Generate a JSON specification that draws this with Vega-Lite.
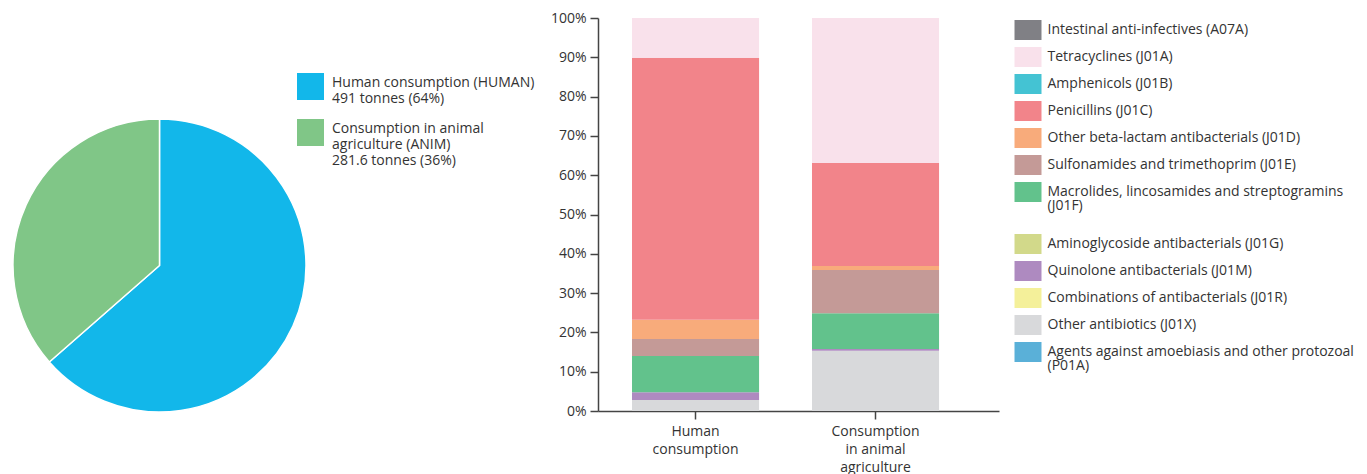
{
  "$schema": "https://vega.github.io/schema/vega-lite/v6.json",
  "background": "white",
  "padding": {"left": 10, "top": 11, "right": 5, "bottom": 0},
  "config": {
    "font": "Open Sans",
    "view": {"stroke": null},
    "axis": {"labelFont": "Open Sans", "labelFontSize": 14, "labelColor": "#333333", "domainColor": "#444444", "tickColor": "#444444", "domainWidth": 1.5, "tickWidth": 1.5, "grid": false, "title": null},
    "legend": {"labelFont": "Open Sans", "labelFontSize": 14, "labelColor": "#333333", "title": null}
  },
  "datasets": {
    "pie": [
      {"sector": "Human consumption (HUMAN)", "tonnes": 491, "rank": 1},
      {"sector": "Consumption in animal agriculture (ANIM)", "tonnes": 281.6, "rank": 2}
    ],
    "bars": [
      {"group": "Human consumption", "code": "J01X", "name": "Other antibiotics (J01X)", "pct": 2.8},
      {"group": "Human consumption", "code": "J01M", "name": "Quinolone antibacterials (J01M)", "pct": 2.0},
      {"group": "Human consumption", "code": "J01F", "name": "Macrolides, lincosamides and streptogramins (J01F)", "pct": 9.2},
      {"group": "Human consumption", "code": "J01E", "name": "Sulfonamides and trimethoprim (J01E)", "pct": 4.3},
      {"group": "Human consumption", "code": "J01D", "name": "Other beta-lactam antibacterials (J01D)", "pct": 4.9},
      {"group": "Human consumption", "code": "J01C", "name": "Penicillins (J01C)", "pct": 66.7},
      {"group": "Human consumption", "code": "J01A", "name": "Tetracyclines (J01A)", "pct": 10.1},
      {"group": "Consumption in animal agriculture", "code": "J01X", "name": "Other antibiotics (J01X)", "pct": 15.3},
      {"group": "Consumption in animal agriculture", "code": "J01M", "name": "Quinolone antibacterials (J01M)", "pct": 0.5},
      {"group": "Consumption in animal agriculture", "code": "J01F", "name": "Macrolides, lincosamides and streptogramins (J01F)", "pct": 9.1},
      {"group": "Consumption in animal agriculture", "code": "J01E", "name": "Sulfonamides and trimethoprim (J01E)", "pct": 11.0},
      {"group": "Consumption in animal agriculture", "code": "J01D", "name": "Other beta-lactam antibacterials (J01D)", "pct": 1.0},
      {"group": "Consumption in animal agriculture", "code": "J01C", "name": "Penicillins (J01C)", "pct": 26.2},
      {"group": "Consumption in animal agriculture", "code": "J01A", "name": "Tetracyclines (J01A)", "pct": 36.9}
    ]
  },
  "bounds": "flush",
  "spacing": 292,
  "resolve": {"scale": {"color": "independent"}, "legend": {"color": "independent"}},
  "hconcat": [
    {
      "width": 293,
      "height": 450,
      "data": {"name": "pie"},
      "mark": {"type": "arc", "stroke": "white", "strokeWidth": 1.5, "yOffset": 22.5},
      "encoding": {
        "theta": {"field": "tonnes", "type": "quantitative", "stack": true},
        "order": {"field": "rank", "type": "ordinal"},
        "color": {
          "field": "sector",
          "type": "nominal",
          "scale": {"domain": ["Human consumption (HUMAN)", "Consumption in animal agriculture (ANIM)"], "range": ["#12b7ea", "#80c687"]},
          "legend": {
            "orient": "none",
            "legendX": 284,
            "legendY": 55,
            "symbolType": "square",
            "symbolSize": 729,
            "symbolStrokeWidth": 0,
            "labelOffset": 8,
            "rowPadding": 13,
            "labelLimit": 400,
            "labelBaseline": "alphabetic",
            "labelExpr": "datum.label == 'Human consumption (HUMAN)' ? ['Human consumption (HUMAN)', '491 tonnes (64%)'] : ['Consumption in animal', 'agriculture (ANIM)', '281.6 tonnes (36%)']",
            "encode": {"labels": {"update": {"lineHeight": {"value": 16.5}}}}
          }
        }
      }
    },
    {
      "width": 401,
      "height": 393,
      "data": {"name": "bars"},
      "mark": {"type": "bar"},
      "encoding": {
        "x": {
          "field": "group",
          "type": "nominal",
          "sort": null,
          "scale": {"domain": ["Human consumption", "Consumption in animal agriculture"], "paddingInner": 0.294, "paddingOuter": 0.261, "align": 0.362},
          "axis": {
            "labelAngle": 0,
            "tickSize": 8,
            "labelPadding": 5,
            "labelBaseline": "top",
            "labelLineHeight": 18,
            "labelExpr": "datum.value == 'Human consumption' ? ['Human', 'consumption'] : ['Consumption', 'in animal', 'agriculture']"
          }
        },
        "y": {
          "field": "pct",
          "type": "quantitative",
          "stack": "normalize",
          "scale": {"domain": [0, 1]},
          "axis": {"format": ".0%", "values": [0, 0.1, 0.2, 0.3, 0.4, 0.5, 0.6, 0.7, 0.8, 0.9, 1], "tickSize": 8, "labelPadding": 4}
        },
        "order": {"field": "code", "sort": "descending"},
        "color": {
          "field": "name",
          "type": "nominal",
          "scale": {
            "domain": [
              "Intestinal anti-infectives (A07A)",
              "Tetracyclines (J01A)",
              "Amphenicols (J01B)",
              "Penicillins (J01C)",
              "Other beta-lactam antibacterials (J01D)",
              "Sulfonamides and trimethoprim (J01E)",
              "Macrolides, lincosamides and streptogramins (J01F)",
              "Aminoglycoside antibacterials (J01G)",
              "Quinolone antibacterials (J01M)",
              "Combinations of antibacterials (J01R)",
              "Other antibiotics (J01X)",
              "Agents against amoebiasis and other protozoal (P01A)"
            ],
            "range": ["#808085", "#f9e1eb", "#44c3d3", "#f2848a", "#f8ab7b", "#c49a97", "#62c28c", "#d2d98a", "#ae8ac0", "#f4f09a", "#d8d9db", "#5ab0d8"]
          },
          "legend": {
            "orient": "right",
            "offset": 16.5,
            "padding": 2,
            "symbolType": "M-1.35,-1H1.35V1H-1.35Z",
            "symbolSize": 400,
            "symbolStrokeWidth": 0,
            "symbolOpacity": 1,
            "rowPadding": 7,
            "labelOffset": 9.5,
            "labelLimit": 400,
            "labelBaseline": "middle",
            "labelExpr": "datum.label == 'Macrolides, lincosamides and streptogramins (J01F)' ? ['Macrolides, lincosamides and streptogramins', '(J01F)', ''] : datum.label == 'Agents against amoebiasis and other protozoal (P01A)' ? ['Agents against amoebiasis and other protozoal', '(P01A)'] : datum.label",
            "encode": {"labels": {"update": {"lineHeight": {"value": 14}}}}
          }
        }
      }
    }
  ]
}
